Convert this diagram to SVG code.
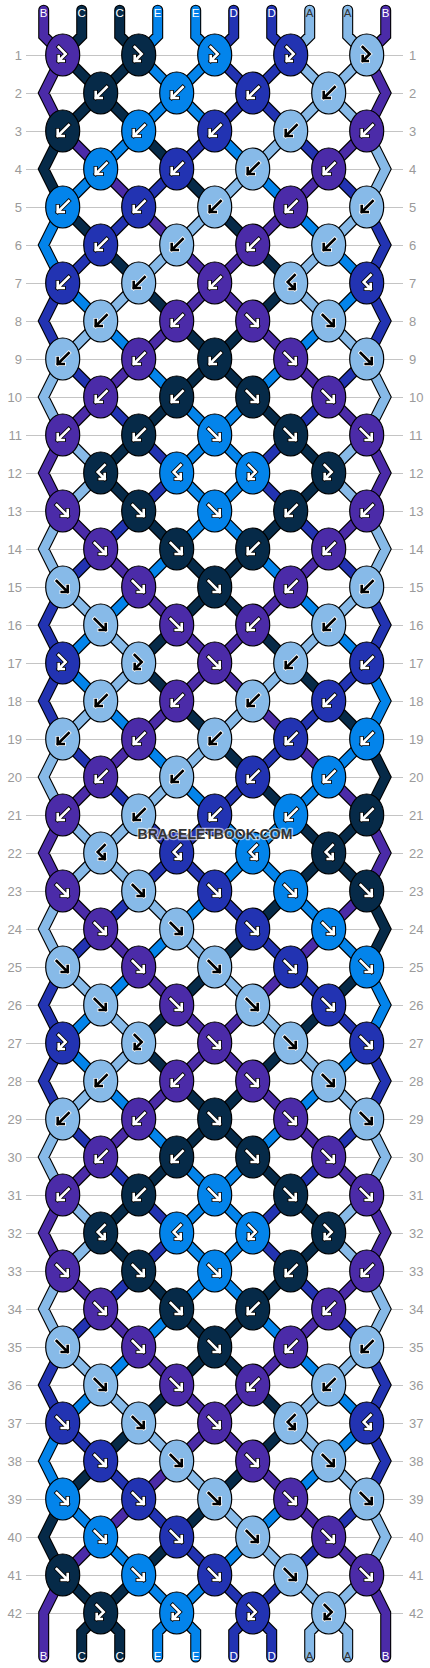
<svg xmlns="http://www.w3.org/2000/svg" xmlns:xlink="http://www.w3.org/1999/xlink" width="430" height="1668" viewBox="0 0 430 1668">
<style>
.rl{font-family:"Liberation Sans",Arial,sans-serif;font-size:13px;fill:#9a9a9a}
.rl.l{text-anchor:end}
.tl{font-family:"Liberation Sans",Arial,sans-serif;font-size:11.5px;text-anchor:middle;fill:#fff}
.tl .a{fill:#333}
.wm{font-family:"Liberation Sans",Arial,sans-serif;font-size:14px;font-weight:bold;text-anchor:middle;fill:#333;stroke:#fff;stroke-opacity:.6;stroke-width:2.5;paint-order:stroke;stroke-linejoin:round}
</style>
<defs>
<ellipse id="eb" rx="17" ry="21" fill="#4b2ba8" stroke="#000" stroke-width="1.2"/>
<ellipse id="ec" rx="17" ry="21" fill="#062a48" stroke="#000" stroke-width="1.2"/>
<ellipse id="ee" rx="17" ry="21" fill="#0384eb" stroke="#000" stroke-width="1.2"/>
<ellipse id="ed" rx="17" ry="21" fill="#2233b2" stroke="#000" stroke-width="1.2"/>
<ellipse id="ea" rx="17" ry="21" fill="#87bae8" stroke="#000" stroke-width="1.2"/>
<path id="gf" d="M-6-6L5 5M-1 5H5V-1"/>
<path id="gb" d="M6-6L-5 5M1 5H-5V-1"/>
<path id="gfb" d="M-4-8L3-1L-4 6M1 6H-4V1"/>
<path id="gbf" d="M4-8L-3-1L4 6M-1 6H4V1"/>
<g id="fw" fill="none" stroke-linecap="square"><use href="#gf" stroke="#000" stroke-width="4.2"/><use href="#gf" stroke="#fff" stroke-width="2.6"/></g>
<g id="fk" fill="none" stroke-linecap="square"><use href="#gf" stroke="#fff" stroke-width="4.2"/><use href="#gf" stroke="#000" stroke-width="2.6"/></g>
<g id="bw" fill="none" stroke-linecap="square"><use href="#gb" stroke="#000" stroke-width="4.2"/><use href="#gb" stroke="#fff" stroke-width="2.6"/></g>
<g id="bk" fill="none" stroke-linecap="square"><use href="#gb" stroke="#fff" stroke-width="4.2"/><use href="#gb" stroke="#000" stroke-width="2.6"/></g>
<g id="fbw" fill="none" stroke-linecap="square"><use href="#gfb" stroke="#000" stroke-width="4.2"/><use href="#gfb" stroke="#fff" stroke-width="2.6"/></g>
<g id="fbk" fill="none" stroke-linecap="square"><use href="#gfb" stroke="#fff" stroke-width="4.2"/><use href="#gfb" stroke="#000" stroke-width="2.6"/></g>
<g id="bfw" fill="none" stroke-linecap="square"><use href="#gbf" stroke="#000" stroke-width="4.2"/><use href="#gbf" stroke="#fff" stroke-width="2.6"/></g>
<g id="bfk" fill="none" stroke-linecap="square"><use href="#gbf" stroke="#fff" stroke-width="4.2"/><use href="#gbf" stroke="#000" stroke-width="2.6"/></g>
<path id="tC" d="M1.5-.18V.5L1 1M2.5-.18V.5L3 1M1 1l1 1M3 1l-1 1M2 2l-1 1M2 2l1 1M3 3l1 1M4 4l1 1M1 5l1 1M5 5l1 1M2 6l1 1M6 6l1 1M3 7l1 1M7 7l-1 1M4 8l1 1M6 8l-1 1M5 9l-1 1M5 9l1 1M4 10l-1 1M6 10l1 1M3 11l-1 1M7 11l1 1M2 12l1 1M8 12l-1 1M3 13l1 1M7 13l-1 1M4 14l1 1M6 14l-1 1M5 15l-1 1M5 15l1 1M4 16l-1 1M6 16l1 1M3 17l1 1M7 17l1 1M4 18l1 1M8 18l1 1M5 19l1 1M6 20l1 1M7 21l1 1M9 21l-1 1M8 22l-1 1M8 22l1 1M7 23l-1 1M6 24l-1 1M5 25l-1 1M9 25l-1 1M4 26l-1 1M8 26l-1 1M3 27l1 1M7 27l-1 1M4 28l1 1M6 28l-1 1M5 29l-1 1M5 29l1 1M4 30l-1 1M6 30l1 1M3 31l-1 1M7 31l1 1M2 32l1 1M8 32l-1 1M3 33l1 1M7 33l-1 1M4 34l1 1M6 34l-1 1M5 35l-1 1M5 35l1 1M4 36l-1 1M6 36l1 1M3 37l-1 1M7 37l-1 1M2 38l-1 1M6 38l-1 1M5 39l-1 1M4 40l-1 1M1 41l1 1M3 41l-1 1M2 42L1.5 42.5V43.16M2 42L2.5 42.5V43.16M1 3L.5 4L1 5M9 19L9.5 20L9 21M9 23L9.5 24L9 25M1 39L.5 40L1 41"/>
<path id="tB" d="M.5-.18V.5L1 1M9.5-.18V.5L9 1M1 1L.5 2L1 3M9 1L9.5 2L9 3M1 3l1 1M9 3l-1 1M2 4l1 1M8 4l-1 1M3 5l1 1M7 5l-1 1M4 6l1 1M6 6l-1 1M5 7l-1 1M5 7l1 1M4 8l-1 1M6 8l1 1M3 9l-1 1M7 9l1 1M2 10l-1 1M8 10l1 1M1 11L.5 12L1 13M9 11L9.5 12L9 13M1 13l1 1M9 13l-1 1M2 14l1 1M8 14l-1 1M3 15l1 1M7 15l-1 1M4 16l1 1M6 16l-1 1M5 17l-1 1M5 17l1 1M4 18l-1 1M6 18l1 1M3 19l-1 1M7 19l1 1M2 20l-1 1M8 20l1 1M1 21L.5 22L1 23M9 21L9.5 22L9 23M1 23l1 1M9 23l-1 1M2 24l1 1M8 24l-1 1M3 25l1 1M7 25l-1 1M4 26l1 1M6 26l-1 1M5 27l-1 1M5 27l1 1M4 28l-1 1M6 28l1 1M3 29l-1 1M7 29l1 1M2 30l-1 1M8 30l1 1M1 31L.5 32L1 33M9 31L9.5 32L9 33M1 33l1 1M9 33l-1 1M2 34l1 1M8 34l-1 1M3 35l1 1M7 35l-1 1M4 36l1 1M6 36l-1 1M5 37l-1 1M5 37l1 1M4 38l-1 1M6 38l1 1M3 39l-1 1M7 39l1 1M2 40l-1 1M8 40l1 1M1 41L.5 42V43.16M9 41L9.5 42V43.16"/>
<path id="tE" d="M3.5-.18V.5L3 1M4.5-.18V.5L5 1M3 1l1 1M5 1l-1 1M4 2l-1 1M4 2l1 1M3 3l-1 1M5 3l1 1M2 4l-1 1M6 4l1 1M7 5l1 1M8 6l1 1M1 7l1 1M9 7l-1 1M2 8l1 1M8 8l-1 1M3 9l1 1M7 9l-1 1M4 10l1 1M6 10l-1 1M5 11l-1 1M5 11l1 1M4 12l1 1M6 12l-1 1M5 13l-1 1M5 13l1 1M4 14l-1 1M6 14l1 1M3 15l-1 1M7 15l1 1M2 16l-1 1M8 16l1 1M1 17l1 1M2 18l1 1M3 19l1 1M9 19l-1 1M4 20l1 1M8 20l-1 1M5 21l1 1M7 21l-1 1M6 22l-1 1M6 22l1 1M5 23l-1 1M7 23l1 1M4 24l-1 1M8 24l1 1M3 25l-1 1M2 26l-1 1M1 27l1 1M9 27l-1 1M2 28l1 1M8 28l-1 1M3 29l1 1M7 29l-1 1M4 30l1 1M6 30l-1 1M5 31l-1 1M5 31l1 1M4 32l1 1M6 32l-1 1M5 33l-1 1M5 33l1 1M4 34l-1 1M6 34l1 1M3 35l-1 1M7 35l1 1M2 36l-1 1M8 36l1 1M9 37l-1 1M8 38l-1 1M1 39l1 1M7 39l-1 1M2 40l1 1M6 40l-1 1M3 41l1 1M5 41l-1 1M4 42L3.5 42.5V43.16M4 42L4.5 42.5V43.16M1 5L.5 6L1 7M9 17L9.5 18L9 19M9 25L9.5 26L9 27M1 37L.5 38L1 39"/>
<path id="tD" d="M5.5-.18V.5L5 1M6.5-.18V.5L7 1M5 1l1 1M7 1l-1 1M6 2l-1 1M6 2l1 1M5 3l-1 1M7 3l1 1M4 4l-1 1M8 4l1 1M3 5l-1 1M2 6l-1 1M1 9l1 1M9 9l-1 1M2 10l1 1M8 10l-1 1M3 11l1 1M7 11l-1 1M4 12l-1 1M6 12l1 1M3 13l-1 1M7 13l1 1M2 14l-1 1M8 14l1 1M9 17l-1 1M8 18l-1 1M1 19l1 1M7 19l-1 1M2 20l1 1M6 20l-1 1M3 21l1 1M5 21l-1 1M4 22l-1 1M4 22l1 1M3 23l-1 1M5 23l1 1M2 24l-1 1M6 24l1 1M7 25l1 1M8 26l1 1M1 29l1 1M9 29l-1 1M2 30l1 1M8 30l-1 1M3 31l1 1M7 31l-1 1M4 32l-1 1M6 32l1 1M3 33l-1 1M7 33l1 1M2 34l-1 1M8 34l1 1M1 37l1 1M2 38l1 1M3 39l1 1M9 39l-1 1M4 40l1 1M8 40l-1 1M5 41l1 1M7 41l-1 1M6 42L5.5 42.5V43.16M6 42L6.5 42.5V43.16M9 5L9.5 6L9 7M1 7L.5 8L1 9M9 7L9.5 8L9 9M1 15L.5 16L1 17M9 15L9.5 16L9 17M1 17L.5 18L1 19M1 25L.5 26L1 27M1 27L.5 28L1 29M9 27L9.5 28L9 29M1 35L.5 36L1 37M9 35L9.5 36L9 37M9 37L9.5 38L9 39"/>
<path id="tA" d="M7.5-.18V.5L7 1M8.5-.18V.5L9 1M7 1l1 1M9 1l-1 1M8 2l-1 1M8 2l1 1M7 3l-1 1M6 4l-1 1M5 5l-1 1M9 5l-1 1M4 6l-1 1M8 6l-1 1M3 7l-1 1M7 7l1 1M2 8l-1 1M8 8l1 1M1 11l1 1M9 11l-1 1M2 12l-1 1M8 12l1 1M1 15l1 1M9 15l-1 1M2 16l1 1M8 16l-1 1M3 17l-1 1M7 17l-1 1M2 18l-1 1M6 18l-1 1M5 19l-1 1M4 20l-1 1M1 21l1 1M3 21l-1 1M2 22l-1 1M2 22l1 1M3 23l1 1M4 24l1 1M1 25l1 1M5 25l1 1M2 26l1 1M6 26l1 1M3 27l-1 1M7 27l1 1M2 28l-1 1M8 28l1 1M1 31l1 1M9 31l-1 1M2 32l-1 1M8 32l1 1M1 35l1 1M9 35l-1 1M2 36l1 1M8 36l-1 1M3 37l1 1M7 37l1 1M4 38l1 1M8 38l1 1M5 39l1 1M6 40l1 1M7 41l1 1M9 41l-1 1M8 42L7.5 42.5V43.16M8 42L8.5 42.5V43.16M9 3L9.5 4L9 5M1 9L.5 10L1 11M9 9L9.5 10L9 11M1 13L.5 14L1 15M9 13L9.5 14L9 15M1 19L.5 20L1 21M1 23L.5 24L1 25M1 29L.5 30L1 31M9 29L9.5 30L9 31M1 33L.5 34L1 35M9 33L9.5 34L9 35M9 39L9.5 40L9 41"/>
</defs>
<rect width="430" height="1668" fill="#fff"/>
<path id="grid" fill="none" stroke="#c4c4c4" stroke-width="1" d="M26 55.5H403M26 93.5H403M26 131.5H403M26 169.5H403M26 207.5H403M26 245.5H403M26 283.5H403M26 321.5H403M26 359.5H403M26 397.5H403M26 435.5H403M26 473.5H403M26 511.5H403M26 549.5H403M26 587.5H403M26 625.5H403M26 663.5H403M26 701.5H403M26 739.5H403M26 777.5H403M26 815.5H403M26 853.5H403M26 891.5H403M26 929.5H403M26 967.5H403M26 1005.5H403M26 1043.5H403M26 1081.5H403M26 1119.5H403M26 1157.5H403M26 1195.5H403M26 1233.5H403M26 1271.5H403M26 1309.5H403M26 1347.5H403M26 1385.5H403M26 1423.5H403M26 1461.5H403M26 1499.5H403M26 1537.5H403M26 1575.5H403M26 1613.5H403"/>
<g id="rowlabels" class="rl">
<text class="rl l" x="22" y="59.5">1</text><text class="rl" x="409" y="59.5">1</text>
<text class="rl l" x="22" y="97.5">2</text><text class="rl" x="409" y="97.5">2</text>
<text class="rl l" x="22" y="135.5">3</text><text class="rl" x="409" y="135.5">3</text>
<text class="rl l" x="22" y="173.5">4</text><text class="rl" x="409" y="173.5">4</text>
<text class="rl l" x="22" y="211.5">5</text><text class="rl" x="409" y="211.5">5</text>
<text class="rl l" x="22" y="249.5">6</text><text class="rl" x="409" y="249.5">6</text>
<text class="rl l" x="22" y="287.5">7</text><text class="rl" x="409" y="287.5">7</text>
<text class="rl l" x="22" y="325.5">8</text><text class="rl" x="409" y="325.5">8</text>
<text class="rl l" x="22" y="363.5">9</text><text class="rl" x="409" y="363.5">9</text>
<text class="rl l" x="22" y="401.5">10</text><text class="rl" x="409" y="401.5">10</text>
<text class="rl l" x="22" y="439.5">11</text><text class="rl" x="409" y="439.5">11</text>
<text class="rl l" x="22" y="477.5">12</text><text class="rl" x="409" y="477.5">12</text>
<text class="rl l" x="22" y="515.5">13</text><text class="rl" x="409" y="515.5">13</text>
<text class="rl l" x="22" y="553.5">14</text><text class="rl" x="409" y="553.5">14</text>
<text class="rl l" x="22" y="591.5">15</text><text class="rl" x="409" y="591.5">15</text>
<text class="rl l" x="22" y="629.5">16</text><text class="rl" x="409" y="629.5">16</text>
<text class="rl l" x="22" y="667.5">17</text><text class="rl" x="409" y="667.5">17</text>
<text class="rl l" x="22" y="705.5">18</text><text class="rl" x="409" y="705.5">18</text>
<text class="rl l" x="22" y="743.5">19</text><text class="rl" x="409" y="743.5">19</text>
<text class="rl l" x="22" y="781.5">20</text><text class="rl" x="409" y="781.5">20</text>
<text class="rl l" x="22" y="819.5">21</text><text class="rl" x="409" y="819.5">21</text>
<text class="rl l" x="22" y="857.5">22</text><text class="rl" x="409" y="857.5">22</text>
<text class="rl l" x="22" y="895.5">23</text><text class="rl" x="409" y="895.5">23</text>
<text class="rl l" x="22" y="933.5">24</text><text class="rl" x="409" y="933.5">24</text>
<text class="rl l" x="22" y="971.5">25</text><text class="rl" x="409" y="971.5">25</text>
<text class="rl l" x="22" y="1009.5">26</text><text class="rl" x="409" y="1009.5">26</text>
<text class="rl l" x="22" y="1047.5">27</text><text class="rl" x="409" y="1047.5">27</text>
<text class="rl l" x="22" y="1085.5">28</text><text class="rl" x="409" y="1085.5">28</text>
<text class="rl l" x="22" y="1123.5">29</text><text class="rl" x="409" y="1123.5">29</text>
<text class="rl l" x="22" y="1161.5">30</text><text class="rl" x="409" y="1161.5">30</text>
<text class="rl l" x="22" y="1199.5">31</text><text class="rl" x="409" y="1199.5">31</text>
<text class="rl l" x="22" y="1237.5">32</text><text class="rl" x="409" y="1237.5">32</text>
<text class="rl l" x="22" y="1275.5">33</text><text class="rl" x="409" y="1275.5">33</text>
<text class="rl l" x="22" y="1313.5">34</text><text class="rl" x="409" y="1313.5">34</text>
<text class="rl l" x="22" y="1351.5">35</text><text class="rl" x="409" y="1351.5">35</text>
<text class="rl l" x="22" y="1389.5">36</text><text class="rl" x="409" y="1389.5">36</text>
<text class="rl l" x="22" y="1427.5">37</text><text class="rl" x="409" y="1427.5">37</text>
<text class="rl l" x="22" y="1465.5">38</text><text class="rl" x="409" y="1465.5">38</text>
<text class="rl l" x="22" y="1503.5">39</text><text class="rl" x="409" y="1503.5">39</text>
<text class="rl l" x="22" y="1541.5">40</text><text class="rl" x="409" y="1541.5">40</text>
<text class="rl l" x="22" y="1579.5">41</text><text class="rl" x="409" y="1579.5">41</text>
<text class="rl l" x="22" y="1617.5">42</text><text class="rl" x="409" y="1617.5">42</text>
</g>
<g id="connectors" transform="translate(24.7 17) scale(38)" fill="none" stroke-linecap="round" stroke-linejoin="miter">
<use href="#tB" stroke="#000" stroke-width=".29"/>
<use href="#tC" stroke="#000" stroke-width=".29"/>
<use href="#tE" stroke="#000" stroke-width=".29"/>
<use href="#tD" stroke="#000" stroke-width=".29"/>
<use href="#tA" stroke="#000" stroke-width=".29"/>
<use href="#tB" stroke="#4b2ba8" stroke-width=".232"/>
<use href="#tC" stroke="#062a48" stroke-width=".232"/>
<use href="#tE" stroke="#0384eb" stroke-width=".232"/>
<use href="#tD" stroke="#2233b2" stroke-width=".232"/>
<use href="#tA" stroke="#87bae8" stroke-width=".232"/>
</g>
<g id="threadlabels" class="tl">
<text x="43.7" y="17">B</text><text x="81.7" y="17">C</text><text x="119.7" y="17">C</text><text x="157.7" y="17">E</text><text x="195.7" y="17">E</text><text x="233.7" y="17">D</text><text x="271.7" y="17">D</text><text class="a" x="309.7" y="17">A</text><text class="a" x="347.7" y="17">A</text><text x="385.7" y="17">B</text>
<text x="43.7" y="1660">B</text><text x="81.7" y="1660">C</text><text x="119.7" y="1660">C</text><text x="157.7" y="1660">E</text><text x="195.7" y="1660">E</text><text x="233.7" y="1660">D</text><text x="271.7" y="1660">D</text><text class="a" x="309.7" y="1660">A</text><text class="a" x="347.7" y="1660">A</text><text x="385.7" y="1660">B</text>
</g>
<g id="knots">
<g id="k1-1" transform="translate(62.7 55)"><use href="#eb"/><use href="#fbw"/></g>
<g id="k1-2" transform="translate(138.7 55)"><use href="#ec"/><use href="#fbw"/></g>
<g id="k1-3" transform="translate(214.7 55)"><use href="#ee"/><use href="#fbw"/></g>
<g id="k1-4" transform="translate(290.7 55)"><use href="#ed"/><use href="#fbw"/></g>
<g id="k1-5" transform="translate(366.7 55)"><use href="#ea"/><use href="#fbk"/></g>
<g id="k2-1" transform="translate(100.7 93)"><use href="#ec"/><use href="#bw"/></g>
<g id="k2-2" transform="translate(176.7 93)"><use href="#ee"/><use href="#bw"/></g>
<g id="k2-3" transform="translate(252.7 93)"><use href="#ed"/><use href="#bw"/></g>
<g id="k2-4" transform="translate(328.7 93)"><use href="#ea"/><use href="#bk"/></g>
<g id="k3-1" transform="translate(62.7 131)"><use href="#ec"/><use href="#bw"/></g>
<g id="k3-2" transform="translate(138.7 131)"><use href="#ee"/><use href="#bw"/></g>
<g id="k3-3" transform="translate(214.7 131)"><use href="#ed"/><use href="#bw"/></g>
<g id="k3-4" transform="translate(290.7 131)"><use href="#ea"/><use href="#bk"/></g>
<g id="k3-5" transform="translate(366.7 131)"><use href="#eb"/><use href="#bw"/></g>
<g id="k4-1" transform="translate(100.7 169)"><use href="#ee"/><use href="#bw"/></g>
<g id="k4-2" transform="translate(176.7 169)"><use href="#ed"/><use href="#bw"/></g>
<g id="k4-3" transform="translate(252.7 169)"><use href="#ea"/><use href="#bk"/></g>
<g id="k4-4" transform="translate(328.7 169)"><use href="#eb"/><use href="#bw"/></g>
<g id="k5-1" transform="translate(62.7 207)"><use href="#ee"/><use href="#bw"/></g>
<g id="k5-2" transform="translate(138.7 207)"><use href="#ed"/><use href="#bw"/></g>
<g id="k5-3" transform="translate(214.7 207)"><use href="#ea"/><use href="#bk"/></g>
<g id="k5-4" transform="translate(290.7 207)"><use href="#eb"/><use href="#bw"/></g>
<g id="k5-5" transform="translate(366.7 207)"><use href="#ea"/><use href="#bk"/></g>
<g id="k6-1" transform="translate(100.7 245)"><use href="#ed"/><use href="#bw"/></g>
<g id="k6-2" transform="translate(176.7 245)"><use href="#ea"/><use href="#bk"/></g>
<g id="k6-3" transform="translate(252.7 245)"><use href="#eb"/><use href="#bw"/></g>
<g id="k6-4" transform="translate(328.7 245)"><use href="#ea"/><use href="#bk"/></g>
<g id="k7-1" transform="translate(62.7 283)"><use href="#ed"/><use href="#bw"/></g>
<g id="k7-2" transform="translate(138.7 283)"><use href="#ea"/><use href="#bk"/></g>
<g id="k7-3" transform="translate(214.7 283)"><use href="#eb"/><use href="#bw"/></g>
<g id="k7-4" transform="translate(290.7 283)"><use href="#ea"/><use href="#bfk"/></g>
<g id="k7-5" transform="translate(366.7 283)"><use href="#ed"/><use href="#bfw"/></g>
<g id="k8-1" transform="translate(100.7 321)"><use href="#ea"/><use href="#bk"/></g>
<g id="k8-2" transform="translate(176.7 321)"><use href="#eb"/><use href="#bw"/></g>
<g id="k8-3" transform="translate(252.7 321)"><use href="#eb"/><use href="#fw"/></g>
<g id="k8-4" transform="translate(328.7 321)"><use href="#ea"/><use href="#fk"/></g>
<g id="k9-1" transform="translate(62.7 359)"><use href="#ea"/><use href="#bk"/></g>
<g id="k9-2" transform="translate(138.7 359)"><use href="#eb"/><use href="#bw"/></g>
<g id="k9-3" transform="translate(214.7 359)"><use href="#ec"/><use href="#bw"/></g>
<g id="k9-4" transform="translate(290.7 359)"><use href="#eb"/><use href="#fw"/></g>
<g id="k9-5" transform="translate(366.7 359)"><use href="#ea"/><use href="#fk"/></g>
<g id="k10-1" transform="translate(100.7 397)"><use href="#eb"/><use href="#bw"/></g>
<g id="k10-2" transform="translate(176.7 397)"><use href="#ec"/><use href="#bw"/></g>
<g id="k10-3" transform="translate(252.7 397)"><use href="#ec"/><use href="#fw"/></g>
<g id="k10-4" transform="translate(328.7 397)"><use href="#eb"/><use href="#fw"/></g>
<g id="k11-1" transform="translate(62.7 435)"><use href="#eb"/><use href="#bw"/></g>
<g id="k11-2" transform="translate(138.7 435)"><use href="#ec"/><use href="#bw"/></g>
<g id="k11-3" transform="translate(214.7 435)"><use href="#ee"/><use href="#fw"/></g>
<g id="k11-4" transform="translate(290.7 435)"><use href="#ec"/><use href="#fw"/></g>
<g id="k11-5" transform="translate(366.7 435)"><use href="#eb"/><use href="#fw"/></g>
<g id="k12-1" transform="translate(100.7 473)"><use href="#ec"/><use href="#bfw"/></g>
<g id="k12-2" transform="translate(176.7 473)"><use href="#ee"/><use href="#bfw"/></g>
<g id="k12-3" transform="translate(252.7 473)"><use href="#ee"/><use href="#fbw"/></g>
<g id="k12-4" transform="translate(328.7 473)"><use href="#ec"/><use href="#fbw"/></g>
<g id="k13-1" transform="translate(62.7 511)"><use href="#eb"/><use href="#fw"/></g>
<g id="k13-2" transform="translate(138.7 511)"><use href="#ec"/><use href="#fw"/></g>
<g id="k13-3" transform="translate(214.7 511)"><use href="#ee"/><use href="#fw"/></g>
<g id="k13-4" transform="translate(290.7 511)"><use href="#ec"/><use href="#bw"/></g>
<g id="k13-5" transform="translate(366.7 511)"><use href="#eb"/><use href="#bw"/></g>
<g id="k14-1" transform="translate(100.7 549)"><use href="#eb"/><use href="#fw"/></g>
<g id="k14-2" transform="translate(176.7 549)"><use href="#ec"/><use href="#fw"/></g>
<g id="k14-3" transform="translate(252.7 549)"><use href="#ec"/><use href="#bw"/></g>
<g id="k14-4" transform="translate(328.7 549)"><use href="#eb"/><use href="#bw"/></g>
<g id="k15-1" transform="translate(62.7 587)"><use href="#ea"/><use href="#fk"/></g>
<g id="k15-2" transform="translate(138.7 587)"><use href="#eb"/><use href="#fw"/></g>
<g id="k15-3" transform="translate(214.7 587)"><use href="#ec"/><use href="#fw"/></g>
<g id="k15-4" transform="translate(290.7 587)"><use href="#eb"/><use href="#bw"/></g>
<g id="k15-5" transform="translate(366.7 587)"><use href="#ea"/><use href="#bk"/></g>
<g id="k16-1" transform="translate(100.7 625)"><use href="#ea"/><use href="#fk"/></g>
<g id="k16-2" transform="translate(176.7 625)"><use href="#eb"/><use href="#fw"/></g>
<g id="k16-3" transform="translate(252.7 625)"><use href="#eb"/><use href="#bw"/></g>
<g id="k16-4" transform="translate(328.7 625)"><use href="#ea"/><use href="#bk"/></g>
<g id="k17-1" transform="translate(62.7 663)"><use href="#ed"/><use href="#fbw"/></g>
<g id="k17-2" transform="translate(138.7 663)"><use href="#ea"/><use href="#fbk"/></g>
<g id="k17-3" transform="translate(214.7 663)"><use href="#eb"/><use href="#fw"/></g>
<g id="k17-4" transform="translate(290.7 663)"><use href="#ea"/><use href="#bk"/></g>
<g id="k17-5" transform="translate(366.7 663)"><use href="#ed"/><use href="#bw"/></g>
<g id="k18-1" transform="translate(100.7 701)"><use href="#ea"/><use href="#bk"/></g>
<g id="k18-2" transform="translate(176.7 701)"><use href="#eb"/><use href="#bw"/></g>
<g id="k18-3" transform="translate(252.7 701)"><use href="#ea"/><use href="#bk"/></g>
<g id="k18-4" transform="translate(328.7 701)"><use href="#ed"/><use href="#bw"/></g>
<g id="k19-1" transform="translate(62.7 739)"><use href="#ea"/><use href="#bk"/></g>
<g id="k19-2" transform="translate(138.7 739)"><use href="#eb"/><use href="#bw"/></g>
<g id="k19-3" transform="translate(214.7 739)"><use href="#ea"/><use href="#bk"/></g>
<g id="k19-4" transform="translate(290.7 739)"><use href="#ed"/><use href="#bw"/></g>
<g id="k19-5" transform="translate(366.7 739)"><use href="#ee"/><use href="#bw"/></g>
<g id="k20-1" transform="translate(100.7 777)"><use href="#eb"/><use href="#bw"/></g>
<g id="k20-2" transform="translate(176.7 777)"><use href="#ea"/><use href="#bk"/></g>
<g id="k20-3" transform="translate(252.7 777)"><use href="#ed"/><use href="#bw"/></g>
<g id="k20-4" transform="translate(328.7 777)"><use href="#ee"/><use href="#bw"/></g>
<g id="k21-1" transform="translate(62.7 815)"><use href="#eb"/><use href="#bw"/></g>
<g id="k21-2" transform="translate(138.7 815)"><use href="#ea"/><use href="#bk"/></g>
<g id="k21-3" transform="translate(214.7 815)"><use href="#ed"/><use href="#bw"/></g>
<g id="k21-4" transform="translate(290.7 815)"><use href="#ee"/><use href="#bw"/></g>
<g id="k21-5" transform="translate(366.7 815)"><use href="#ec"/><use href="#bw"/></g>
<g id="k22-1" transform="translate(100.7 853)"><use href="#ea"/><use href="#bfk"/></g>
<g id="k22-2" transform="translate(176.7 853)"><use href="#ed"/><use href="#bfw"/></g>
<g id="k22-3" transform="translate(252.7 853)"><use href="#ee"/><use href="#bfw"/></g>
<g id="k22-4" transform="translate(328.7 853)"><use href="#ec"/><use href="#bfw"/></g>
<g id="k23-1" transform="translate(62.7 891)"><use href="#eb"/><use href="#fw"/></g>
<g id="k23-2" transform="translate(138.7 891)"><use href="#ea"/><use href="#fk"/></g>
<g id="k23-3" transform="translate(214.7 891)"><use href="#ed"/><use href="#fw"/></g>
<g id="k23-4" transform="translate(290.7 891)"><use href="#ee"/><use href="#fw"/></g>
<g id="k23-5" transform="translate(366.7 891)"><use href="#ec"/><use href="#fw"/></g>
<g id="k24-1" transform="translate(100.7 929)"><use href="#eb"/><use href="#fw"/></g>
<g id="k24-2" transform="translate(176.7 929)"><use href="#ea"/><use href="#fk"/></g>
<g id="k24-3" transform="translate(252.7 929)"><use href="#ed"/><use href="#fw"/></g>
<g id="k24-4" transform="translate(328.7 929)"><use href="#ee"/><use href="#fw"/></g>
<g id="k25-1" transform="translate(62.7 967)"><use href="#ea"/><use href="#fk"/></g>
<g id="k25-2" transform="translate(138.7 967)"><use href="#eb"/><use href="#fw"/></g>
<g id="k25-3" transform="translate(214.7 967)"><use href="#ea"/><use href="#fk"/></g>
<g id="k25-4" transform="translate(290.7 967)"><use href="#ed"/><use href="#fw"/></g>
<g id="k25-5" transform="translate(366.7 967)"><use href="#ee"/><use href="#fw"/></g>
<g id="k26-1" transform="translate(100.7 1005)"><use href="#ea"/><use href="#fk"/></g>
<g id="k26-2" transform="translate(176.7 1005)"><use href="#eb"/><use href="#fw"/></g>
<g id="k26-3" transform="translate(252.7 1005)"><use href="#ea"/><use href="#fk"/></g>
<g id="k26-4" transform="translate(328.7 1005)"><use href="#ed"/><use href="#fw"/></g>
<g id="k27-1" transform="translate(62.7 1043)"><use href="#ed"/><use href="#fbw"/></g>
<g id="k27-2" transform="translate(138.7 1043)"><use href="#ea"/><use href="#fbk"/></g>
<g id="k27-3" transform="translate(214.7 1043)"><use href="#eb"/><use href="#fw"/></g>
<g id="k27-4" transform="translate(290.7 1043)"><use href="#ea"/><use href="#fk"/></g>
<g id="k27-5" transform="translate(366.7 1043)"><use href="#ed"/><use href="#fw"/></g>
<g id="k28-1" transform="translate(100.7 1081)"><use href="#ea"/><use href="#bk"/></g>
<g id="k28-2" transform="translate(176.7 1081)"><use href="#eb"/><use href="#bw"/></g>
<g id="k28-3" transform="translate(252.7 1081)"><use href="#eb"/><use href="#fw"/></g>
<g id="k28-4" transform="translate(328.7 1081)"><use href="#ea"/><use href="#fk"/></g>
<g id="k29-1" transform="translate(62.7 1119)"><use href="#ea"/><use href="#bk"/></g>
<g id="k29-2" transform="translate(138.7 1119)"><use href="#eb"/><use href="#bw"/></g>
<g id="k29-3" transform="translate(214.7 1119)"><use href="#ec"/><use href="#fw"/></g>
<g id="k29-4" transform="translate(290.7 1119)"><use href="#eb"/><use href="#fw"/></g>
<g id="k29-5" transform="translate(366.7 1119)"><use href="#ea"/><use href="#fk"/></g>
<g id="k30-1" transform="translate(100.7 1157)"><use href="#eb"/><use href="#bw"/></g>
<g id="k30-2" transform="translate(176.7 1157)"><use href="#ec"/><use href="#bw"/></g>
<g id="k30-3" transform="translate(252.7 1157)"><use href="#ec"/><use href="#fw"/></g>
<g id="k30-4" transform="translate(328.7 1157)"><use href="#eb"/><use href="#fw"/></g>
<g id="k31-1" transform="translate(62.7 1195)"><use href="#eb"/><use href="#bw"/></g>
<g id="k31-2" transform="translate(138.7 1195)"><use href="#ec"/><use href="#bw"/></g>
<g id="k31-3" transform="translate(214.7 1195)"><use href="#ee"/><use href="#fw"/></g>
<g id="k31-4" transform="translate(290.7 1195)"><use href="#ec"/><use href="#fw"/></g>
<g id="k31-5" transform="translate(366.7 1195)"><use href="#eb"/><use href="#fw"/></g>
<g id="k32-1" transform="translate(100.7 1233)"><use href="#ec"/><use href="#bfw"/></g>
<g id="k32-2" transform="translate(176.7 1233)"><use href="#ee"/><use href="#bfw"/></g>
<g id="k32-3" transform="translate(252.7 1233)"><use href="#ee"/><use href="#fbw"/></g>
<g id="k32-4" transform="translate(328.7 1233)"><use href="#ec"/><use href="#fbw"/></g>
<g id="k33-1" transform="translate(62.7 1271)"><use href="#eb"/><use href="#fw"/></g>
<g id="k33-2" transform="translate(138.7 1271)"><use href="#ec"/><use href="#fw"/></g>
<g id="k33-3" transform="translate(214.7 1271)"><use href="#ee"/><use href="#fw"/></g>
<g id="k33-4" transform="translate(290.7 1271)"><use href="#ec"/><use href="#bw"/></g>
<g id="k33-5" transform="translate(366.7 1271)"><use href="#eb"/><use href="#bw"/></g>
<g id="k34-1" transform="translate(100.7 1309)"><use href="#eb"/><use href="#fw"/></g>
<g id="k34-2" transform="translate(176.7 1309)"><use href="#ec"/><use href="#fw"/></g>
<g id="k34-3" transform="translate(252.7 1309)"><use href="#ec"/><use href="#bw"/></g>
<g id="k34-4" transform="translate(328.7 1309)"><use href="#eb"/><use href="#bw"/></g>
<g id="k35-1" transform="translate(62.7 1347)"><use href="#ea"/><use href="#fk"/></g>
<g id="k35-2" transform="translate(138.7 1347)"><use href="#eb"/><use href="#fw"/></g>
<g id="k35-3" transform="translate(214.7 1347)"><use href="#ec"/><use href="#fw"/></g>
<g id="k35-4" transform="translate(290.7 1347)"><use href="#eb"/><use href="#bw"/></g>
<g id="k35-5" transform="translate(366.7 1347)"><use href="#ea"/><use href="#bk"/></g>
<g id="k36-1" transform="translate(100.7 1385)"><use href="#ea"/><use href="#fk"/></g>
<g id="k36-2" transform="translate(176.7 1385)"><use href="#eb"/><use href="#fw"/></g>
<g id="k36-3" transform="translate(252.7 1385)"><use href="#eb"/><use href="#bw"/></g>
<g id="k36-4" transform="translate(328.7 1385)"><use href="#ea"/><use href="#bk"/></g>
<g id="k37-1" transform="translate(62.7 1423)"><use href="#ed"/><use href="#fw"/></g>
<g id="k37-2" transform="translate(138.7 1423)"><use href="#ea"/><use href="#fk"/></g>
<g id="k37-3" transform="translate(214.7 1423)"><use href="#eb"/><use href="#fw"/></g>
<g id="k37-4" transform="translate(290.7 1423)"><use href="#ea"/><use href="#bfk"/></g>
<g id="k37-5" transform="translate(366.7 1423)"><use href="#ed"/><use href="#bfw"/></g>
<g id="k38-1" transform="translate(100.7 1461)"><use href="#ed"/><use href="#fw"/></g>
<g id="k38-2" transform="translate(176.7 1461)"><use href="#ea"/><use href="#fk"/></g>
<g id="k38-3" transform="translate(252.7 1461)"><use href="#eb"/><use href="#fw"/></g>
<g id="k38-4" transform="translate(328.7 1461)"><use href="#ea"/><use href="#fk"/></g>
<g id="k39-1" transform="translate(62.7 1499)"><use href="#ee"/><use href="#fw"/></g>
<g id="k39-2" transform="translate(138.7 1499)"><use href="#ed"/><use href="#fw"/></g>
<g id="k39-3" transform="translate(214.7 1499)"><use href="#ea"/><use href="#fk"/></g>
<g id="k39-4" transform="translate(290.7 1499)"><use href="#eb"/><use href="#fw"/></g>
<g id="k39-5" transform="translate(366.7 1499)"><use href="#ea"/><use href="#fk"/></g>
<g id="k40-1" transform="translate(100.7 1537)"><use href="#ee"/><use href="#fw"/></g>
<g id="k40-2" transform="translate(176.7 1537)"><use href="#ed"/><use href="#fw"/></g>
<g id="k40-3" transform="translate(252.7 1537)"><use href="#ea"/><use href="#fk"/></g>
<g id="k40-4" transform="translate(328.7 1537)"><use href="#eb"/><use href="#fw"/></g>
<g id="k41-1" transform="translate(62.7 1575)"><use href="#ec"/><use href="#fw"/></g>
<g id="k41-2" transform="translate(138.7 1575)"><use href="#ee"/><use href="#fw"/></g>
<g id="k41-3" transform="translate(214.7 1575)"><use href="#ed"/><use href="#fw"/></g>
<g id="k41-4" transform="translate(290.7 1575)"><use href="#ea"/><use href="#fk"/></g>
<g id="k41-5" transform="translate(366.7 1575)"><use href="#eb"/><use href="#fw"/></g>
<g id="k42-1" transform="translate(100.7 1613)"><use href="#ec"/><use href="#fbw"/></g>
<g id="k42-2" transform="translate(176.7 1613)"><use href="#ee"/><use href="#fbw"/></g>
<g id="k42-3" transform="translate(252.7 1613)"><use href="#ed"/><use href="#fbw"/></g>
<g id="k42-4" transform="translate(328.7 1613)"><use href="#ea"/><use href="#fbk"/></g>
</g>
<text id="watermark" class="wm" x="215" y="838.5">BRACELETBOOK.COM</text>
</svg>
